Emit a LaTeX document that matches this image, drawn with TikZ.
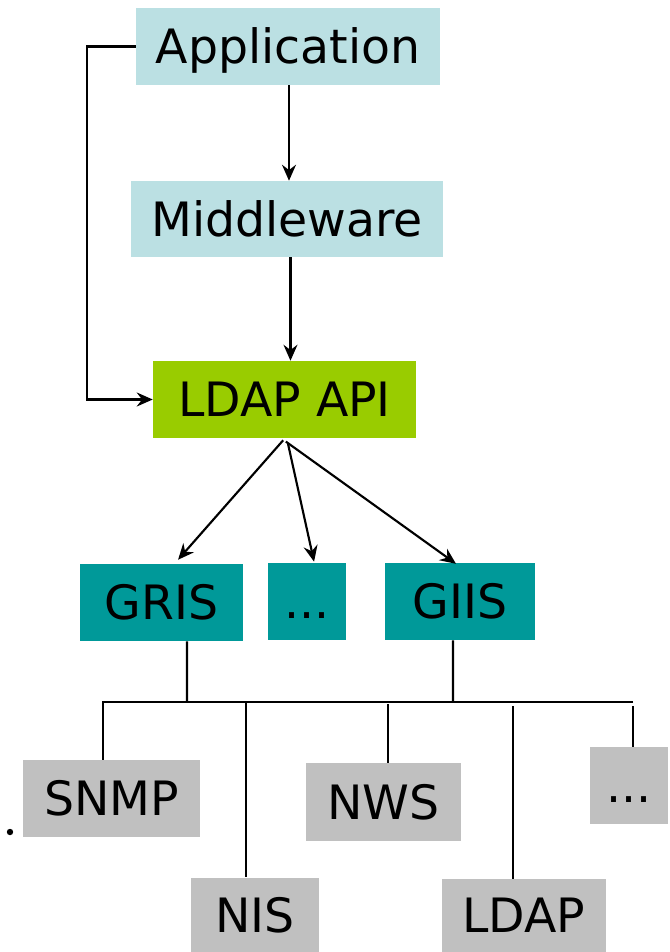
\documentclass[tikz,border=0pt]{standalone}
\usepackage{fontspec}
\setmainfont{DejaVu Sans}
\usetikzlibrary{arrows.meta,calc}
\definecolor{lblue}{HTML}{BBE0E3}
\definecolor{lgreen}{HTML}{99CC00}
\definecolor{teal2}{HTML}{009999}
\definecolor{gray2}{HTML}{C0C0C0}
\begin{document}
\begin{tikzpicture}[x=0.75pt,y=-0.75pt,
  box/.style={rectangle,inner sep=0pt,font=\fontsize{35.5}{40}\selectfont,text=black,text height=25.9pt,text depth=0pt},
  ln/.style={line width=1.6pt,black},
  arr/.style={ln,-{Stealth[length=12pt,width=10.5pt,inset=4pt]}}]
\useasboundingbox (0,0) rectangle (669,952);
% boxes
\node[box,fill=lblue,minimum width=0.75*304pt,minimum height=0.75*77pt] (app) at (288,46.5) {Application};
\node[box,fill=lblue,minimum width=0.75*312pt,minimum height=0.75*76pt] (mid) at (287,219) {Middleware};
\node[box,fill=lgreen,minimum width=0.75*263pt,minimum height=0.75*77pt] (api) at (284.5,399.5) {LDAP API};
\node[box,fill=teal2,minimum width=0.75*163pt,minimum height=0.75*77pt] (gris) at (161.5,602.5) {GRIS};
\node[box,fill=teal2,minimum width=0.75*78pt,minimum height=0.75*77pt] (dots) at (307,601.5) {...};
\node[box,fill=teal2,minimum width=0.75*150pt,minimum height=0.75*77pt] (giis) at (460,601.5) {GIIS};
\node[box,fill=gray2,minimum width=0.75*177pt,minimum height=0.75*77pt] (snmp) at (111.5,798.5) {SNMP};
\node[box,fill=gray2,minimum width=0.75*155pt,minimum height=0.75*78pt] (nws) at (383.5,802) {NWS};
\node[box,fill=gray2,minimum width=0.75*78pt,minimum height=0.75*77pt] (dots2) at (629,785.5) {...};
\node[box,fill=gray2,minimum width=0.75*128pt,minimum height=0.75*75pt] (nis) at (255,915) {NIS};
\node[box,fill=gray2,minimum width=0.75*164pt,minimum height=0.75*73pt] (ldap) at (524,915.5) {LDAP};
% upper connectors
\draw[arr] (app.west) -- ++(-49,0) |- (api.west);
\draw[arr] ([xshift=0.75pt]app.south) -- ([xshift=0.75pt]app.south |- mid.north);
\draw[arr] ([xshift=2.6pt]mid.south) -- ([xshift=2.6pt]mid.south |- api.north);
% fan out
\draw[arr] ([xshift=-1pt,yshift=-1.5pt]api.south) -- ([xshift=12.4pt,yshift=3pt]gris.north);
\draw[arr] ([xshift=2.6pt,yshift=-4pt]api.south) -- ([xshift=5.3pt,yshift=0.8pt]dots.north);
\draw[arr] ([xshift=1pt,yshift=-2.5pt]api.south) -- ([xshift=-3pt,yshift=-0.8pt]giis.north);
% bus
\coordinate (busL) at (103,702);
\coordinate (busR) at (633,702);
\coordinate (gT) at (187,702);
\coordinate (iT) at (453,702);
\coordinate (d1) at (246,702);
\coordinate (d2) at (388,704);
\coordinate (d3) at (513,706);
\coordinate (d4) at (633,706);
\draw[ln] ([xshift=19.1pt]gris.south) -- (gT);
\draw[ln] ([xshift=-5.3pt]giis.south) -- (iT);
\draw[ln] (busR) -- (busL) -- (busL |- snmp.north);
\draw[ln] (d1) -- (d1 |- nis.north);
\draw[ln] (d2) -- (d2 |- nws.north);
\draw[ln] (d3) -- (d3 |- ldap.north);
\draw[ln] (d4) -- (d4 |- dots2.north);
% stray bullet
\fill (10,832) circle (3.2);
\end{tikzpicture}
\end{document}
